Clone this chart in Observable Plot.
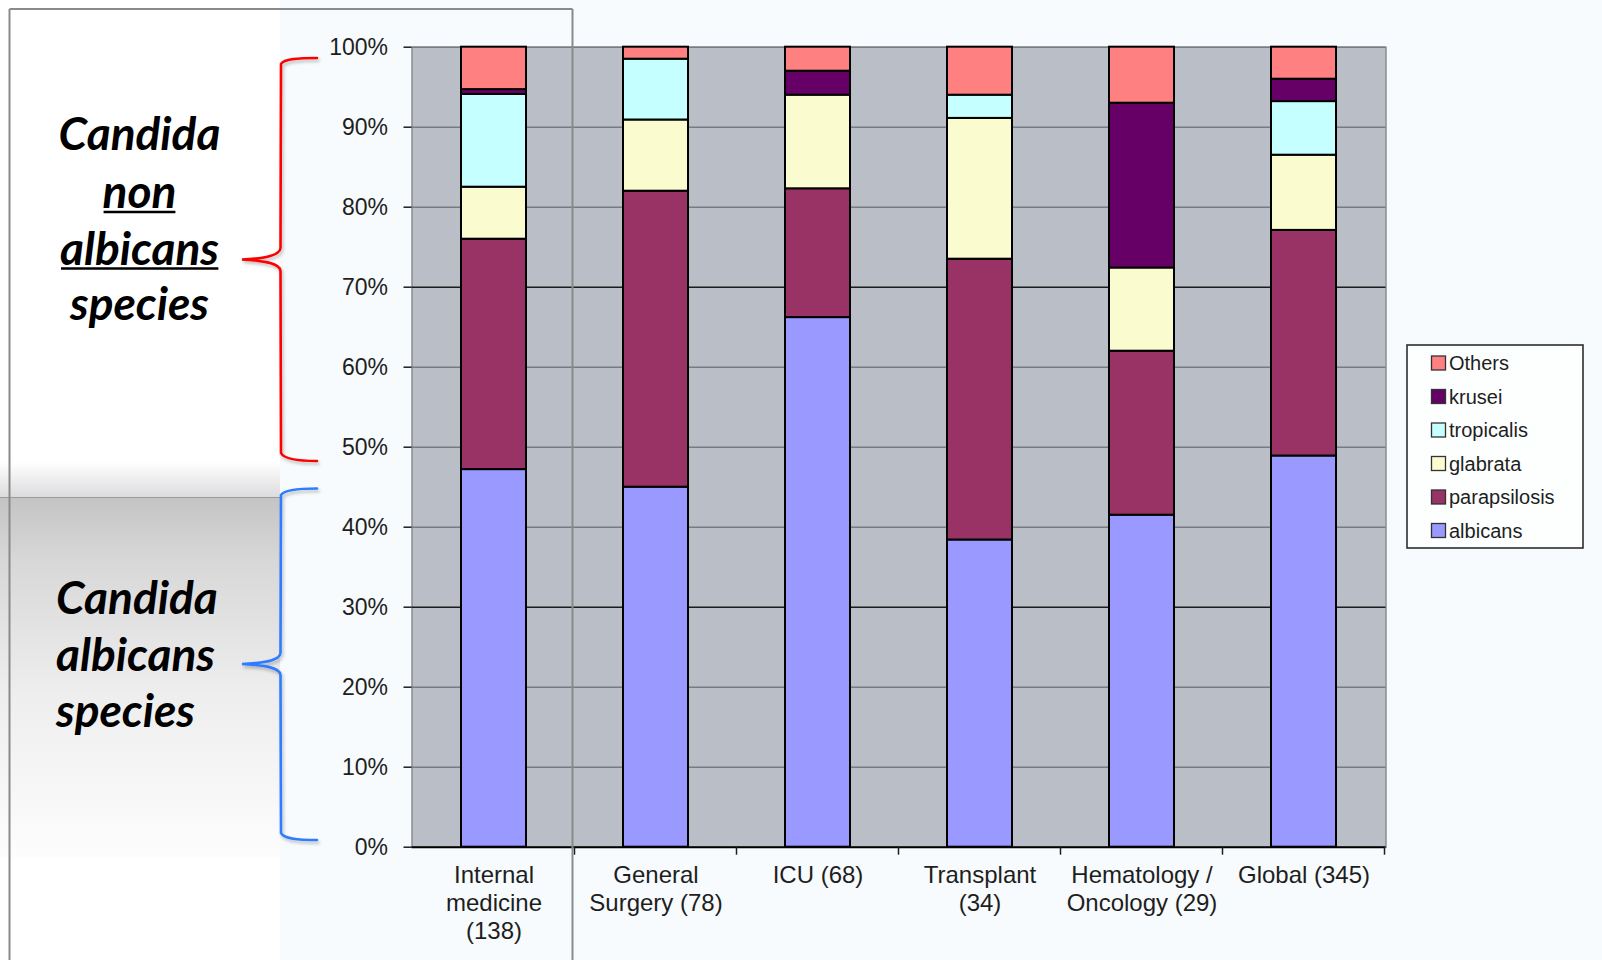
<!DOCTYPE html>
<html><head><meta charset="utf-8">
<script src="https://cdn.jsdelivr.net/npm/d3@7"></script>
<script src="https://cdn.jsdelivr.net/npm/@observablehq/plot@0.6"></script>
<style>html,body{margin:0;padding:0;background:#fff;overflow:hidden}</style>
</head><body><div id="chart"></div>
<script>
// ---------- data ----------
const categories = ["Internal medicine (138)", "General Surgery (78)", "ICU (68)", "Transplant (34)", "Hematology / Oncology (29)", "Global (345)"];
const categoryLabels = ["Internal\nmedicine\n(138)", "General\nSurgery (78)", "ICU (68)", "Transplant\n(34)", "Hematology /\nOncology (29)", "Global (345)"];
const species = ["albicans", "parapsilosis", "glabrata", "tropicalis", "krusei", "Others"];
const speciesColors = ["#9999ff", "#993366", "#fafccf", "#c6ffff", "#660066", "#ff8080"];
const legendOrder = ["Others", "krusei", "tropicalis", "glabrata", "parapsilosis", "albicans"];
const albicans     = [47.2, 45.0, 66.2, 38.4, 41.5, 48.9];
const parapsilosis = [28.8, 37.0, 16.1, 35.1, 20.5, 28.2];
const glabrata     = [6.5, 8.9, 11.7, 17.6, 10.4, 9.4];
const tropicalis   = [11.6, 7.6, 0, 2.9, 0, 6.7];
const krusei       = [0.6, 0, 3.0, 0, 20.6, 2.8];
const others       = [5.3, 1.5, 3.0, 6.0, 7.0, 4.0];
const yTicks = [0, 10, 20, 30, 40, 50, 60, 70, 80, 90, 100];
const nonAlbicansLines = ["Candida", "non", "albicans", "species"];
const albicansLines = ["Candida", "albicans", "species"];

const seriesValues = {albicans, parapsilosis, glabrata, tropicalis, krusei, Others: others};
const data = [];
species.forEach(s => categories.forEach((c, i) => {
  const v = seriesValues[s][i];
  if (v > 0) data.push({category: c, species: s, value: v});
}));

const W = 1602, H = 960;
const chart = Plot.plot({
  width: W, height: H,
  marginLeft: 411.5, marginRight: 216.5, marginTop: 46.7, marginBottom: 113.3,
  style: {fontFamily: "'Liberation Sans', Arial, sans-serif", background: "transparent", color: "#1e1e1e", overflow: "visible"},
  x: {domain: categories, paddingInner: 0.6, paddingOuter: 0.3, axis: null},
  y: {domain: [0, 100], axis: null},
  color: {domain: species, range: speciesColors},
  marks: [
    Plot.frame({fill: "#babec6", stroke: "#8a8e95", strokeWidth: 1.5}),
    Plot.ruleY(yTicks.filter(d => d !== 0 && d !== 30 && d !== 70), {stroke: "#777b83", strokeWidth: 1.6}),
    Plot.ruleY(yTicks.filter(d => d === 30 || d === 70), {stroke: "#1c1c1c", strokeWidth: 1.6}),
    Plot.barY(data, {x: "category", y: "value", fill: "species", order: species, stroke: "#000", strokeWidth: 2}),
    Plot.axisY({ticks: yTicks, tickFormat: d => d + "%", tickSize: 8, tickPadding: 16, fontSize: 23, strokeWidth: 1.5, line: true, label: null}),
    Plot.axisX({tickSize: 0, tickPadding: 16, fontSize: 24, lineHeight: 1.17, label: null, tickFormat: c => categoryLabels[categories.indexOf(c)]}),
    Plot.ruleY([0], {stroke: "#000", strokeWidth: 2})
  ]
});
document.getElementById("chart").appendChild(chart);

const svg = d3.select(chart);
const xs = chart.scale("x");
const ys = chart.scale("y");
const color = chart.scale("color");

// ---------- background layers ----------
const defs = svg.insert("defs", ":first-child");
const gTop = defs.append("linearGradient").attr("id", "shadeTop").attr("x1", 0).attr("x2", 0).attr("y1", 0).attr("y2", 1);
gTop.append("stop").attr("offset", 0).attr("stop-color", "#ffffff");
gTop.append("stop").attr("offset", 1).attr("stop-color", "#dcdcde");
const gBot = defs.append("linearGradient").attr("id", "shadeBot").attr("x1", 0).attr("x2", 0).attr("y1", 0).attr("y2", 1);
gBot.append("stop").attr("offset", 0).attr("stop-color", "#c4c4c5");
gBot.append("stop").attr("offset", 0.18).attr("stop-color", "#d8d8d9");
gBot.append("stop").attr("offset", 0.55).attr("stop-color", "#eeeeef");
gBot.append("stop").attr("offset", 1).attr("stop-color", "#fdfdfd");
const flt = defs.append("filter").attr("id", "shadow").attr("x", "-20%").attr("y", "-5%").attr("width", "150%").attr("height", "115%");
flt.append("feDropShadow").attr("dx", 1.5).attr("dy", 2.5).attr("stdDeviation", 1.5).attr("flood-color", "#000").attr("flood-opacity", 0.25);

const bg = svg.insert("g", "defs + *");
bg.append("rect").attr("width", W).attr("height", H).attr("fill", "#ffffff");
bg.append("rect").attr("x", 280).attr("width", W - 280).attr("height", H).attr("fill", "#f7fbfd");
bg.append("rect").attr("x", 0).attr("y", 462).attr("width", 280).attr("height", 35).attr("fill", "url(#shadeTop)");
bg.append("rect").attr("x", 0).attr("y", 497.5).attr("width", 280).attr("height", 360).attr("fill", "url(#shadeBot)");
bg.append("line").attr("x1", 0).attr("x2", 280).attr("y1", 497.5).attr("y2", 497.5).attr("stroke", "#9a9a9a").attr("stroke-width", 1.2);

// ---------- category boundary ticks ----------
const deco = svg.append("g");
const step = xs.step;
const y0 = ys.apply(0);
categories.forEach((c, i) => {
  const xc = xs.apply(c) + xs.bandwidth / 2;
  const xb = xc - step / 2;
  if (i > 0) deco.append("line").attr("x1", xb).attr("x2", xb).attr("y1", y0).attr("y2", y0 + 8).attr("stroke", "#1e1e1e").attr("stroke-width", 1.5);
  if (i === categories.length - 1) deco.append("line").attr("x1", xc + step / 2).attr("x2", xc + step / 2).attr("y1", y0).attr("y2", y0 + 8).attr("stroke", "#1e1e1e").attr("stroke-width", 1.5);
});

// ---------- legend ----------
const lg = svg.append("g").attr("font-family", "'Liberation Sans', Arial, sans-serif").attr("text-anchor", "start");
lg.append("rect").attr("x", 1407).attr("y", 345).attr("width", 176).attr("height", 203)
  .attr("fill", "#fdfefe").attr("stroke", "#2e2e2e").attr("stroke-width", 1.6);
legendOrder.forEach((s, i) => {
  const cy = 363 + i * 33.5;
  lg.append("rect").attr("x", 1431.5).attr("y", cy - 7).attr("width", 14).attr("height", 14)
    .attr("fill", color.apply(s)).attr("stroke", "#333").attr("stroke-width", 1.3);
  lg.append("text").attr("x", 1449).attr("y", cy).attr("dy", "0.36em").attr("text-anchor", "start")
    .attr("font-size", 20).attr("fill", "#1e1e1e").text(s);
});

// ---------- annotations ----------
const ann = svg.append("g").attr("font-family", "Lato, 'Open Sans', sans-serif").attr("font-weight", 700).attr("font-style", "italic").attr("fill", "#000");
const base1 = [150, 208, 264.5, 320];
nonAlbicansLines.forEach((t, i) => {
  const tx = ann.append("text").attr("x", 139.5).attr("y", base1[i]).attr("text-anchor", "middle").attr("font-size", 46).text(t);
  if (i === 1 || i === 2) {
    const b = tx.node().getBBox();
    ann.append("line").attr("x1", b.x + 1).attr("x2", b.x + b.width - 1).attr("y1", base1[i] + 4).attr("y2", base1[i] + 4)
      .attr("stroke", "#000").attr("stroke-width", 2.6);
  }
});
const base2 = [614, 670.5, 727];
albicansLines.forEach((t, i) => {
  ann.append("text").attr("x", 56).attr("y", base2[i]).attr("text-anchor", "start").attr("font-size", 46).text(t);
});

// brackets
const br = svg.append("g").attr("fill", "none").attr("stroke-width", 2.6).attr("filter", "url(#shadow)").attr("stroke-linecap", "round");
br.append("path").attr("stroke", "#ff0000")
  .attr("d", "M317,58 C298,58 284,59 281,64 L280.5,248 C280,256 262,258.5 242,259.5 C262,260.5 280,263 280.5,271 L281,453 C284,459 298,461 317,461");
br.append("path").attr("stroke", "#2d7bff")
  .attr("d", "M317,488.5 C298,488.5 284,490 281,495 L280.5,653 C280,661 262,663 242,664 C262,665 280,667 280.5,675 L281,833 C284,839 298,840 317,840");

// ---------- slide frame ----------
const fr = svg.append("g").attr("stroke", "#8a8a8a").attr("stroke-width", 2);
fr.append("line").attr("x1", 9.5).attr("x2", 572.5).attr("y1", 9).attr("y2", 9);
fr.append("line").attr("x1", 9.5).attr("x2", 9.5).attr("y1", 9).attr("y2", H);
fr.append("line").attr("x1", 572.5).attr("x2", 572.5).attr("y1", 9).attr("y2", H);
</script>
</body></html>
